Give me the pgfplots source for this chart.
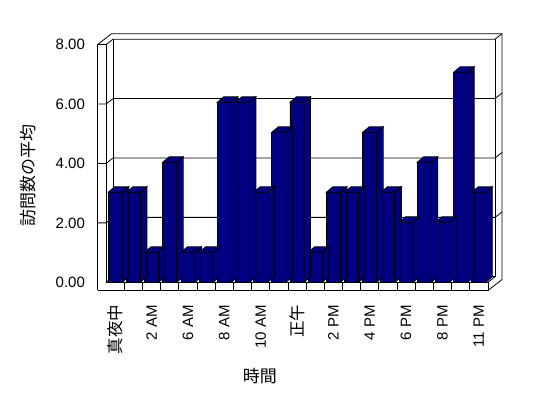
\documentclass[border=0pt]{standalone}
\usepackage{fontspec}
\setmainfont{Liberation Sans}
\newfontfamily\cjk{Noto Sans CJK JP}
\usepackage{pgfplots}
\usepackage{pgfplotstable}
\pgfplotsset{compat=1.18}
\definecolor{barnavy}{RGB}{0,0,128}

\pgfplotstableread{
x v
1 3
2 3
3 1
4 4
5 1
6 1
7 6
8 6
9 3
10 5
11 6
12 1
13 3
14 3
15 5
16 3
17 2
18 4
19 2
20 7
21 3
}\visits

\pgfdeclareplotmark{barfaces}{%
  \pgfmathsetlengthmacro\hh{\barh*30pt}%
  \pgfpathmoveto{\pgfqpoint{-7pt}{0pt}}%
  \pgfpathlineto{\pgfqpoint{7pt}{0pt}}%
  \pgfpathlineto{\pgfqpoint{13.5pt}{5.5pt}}%
  \pgfpathlineto{\pgfqpoint{-0.5pt}{5.5pt}}%
  \pgfpathclose
  \pgfusepathqfillstroke
  \pgfpathmoveto{\pgfqpoint{7pt}{0pt}}%
  \pgfpathlineto{\pgfqpoint{13.5pt}{5.5pt}}%
  \pgfpathlineto{\pgfpoint{13.5pt}{5.5pt-\hh}}%
  \pgfpathlineto{\pgfpoint{7pt}{-\hh}}%
  \pgfpathclose
  \pgfusepathqfillstroke
}

\begin{document}
\begin{tikzpicture}
\useasboundingbox (0,0) rectangle (548pt,398pt);
\begin{scope}[yshift=398pt,x=1pt,y=-1pt,line width=0.8pt]
 \draw (97.5,290.5)--(97.5,44.7)--(106,44.7)--(106,282.3)--(488,282.3);
 \draw (97.5,290.5)--(488,290.5)--(488,282.3);
 \draw (97.5,44.7)--(111.5,33.7)--(502,33.7)--(502,279.5)--(488,290.5);
 \draw (106,44.7)--(113,39.2)--(495,39.2)--(502,33.7);
 \draw (113,39.2)--(113,276.8)--(495,276.8)--(495,39.2);
 \draw (488,282.3)--(495,276.8);
 \draw (106,282.3)--(113,276.8);
 \foreach \v in {2,4,6} {
   \draw (113,{276.8-29.7*\v})--(495,{276.8-29.7*\v})--(502,{271.3-29.7*\v});
   \draw (97.5,{282.3-29.7*\v})--(106,{282.3-29.7*\v})--(113,{276.8-29.7*\v});
 }
 \foreach \k in {1,...,20} \draw ({106.1+18.18*\k},282.3)--({106.1+18.18*\k},290.5);
\end{scope}
\begin{axis}[
  at={(106.1pt,115.7pt)}, anchor=south west,
  x=18.18pt, y=30pt,
  xmin=0.5, xmax=21.5, ymin=0, ymax=8,
  clip=false,
  axis line style={draw=none},
  tick style={draw=none},
  major tick length=0pt,
  xtick={1,3,...,21},
  xticklabels={{\cjk\fontsize{16.5}{18}\selectfont 真夜中},2 AM,6 AM,8 AM,10 AM,{\cjk\fontsize{16.5}{18}\selectfont 正午},2 PM,4 PM,6 PM,8 PM,11 PM},
  ytick={0,1.98,3.96,5.94,7.92},
  yticklabels={0.00,2.00,4.00,6.00,8.00},
  tick label style={font=\fontsize{15}{18}\selectfont},
  xticklabel style={yshift=-22.5pt, rotate=90, anchor=east, inner sep=0pt},
  yticklabel style={anchor=east, inner sep=0pt, xshift=-21pt},
  xlabel={\cjk\fontsize{17}{20}\selectfont 時間},
  ylabel={\cjk\fontsize{17}{20}\selectfont 訪問数の平均},
  every axis x label/.style={at={(rel axis cs:0.403,-0.390)}, anchor=center, font=\cjk\fontsize{17}{20}\selectfont},
  every axis y label/.style={at={(rel axis cs:-0.2046,0.447)}, rotate=90, anchor=center, font=\cjk\fontsize{17}{20}\selectfont},
]
\addplot[only marks, mark=barfaces, mark options={fill=barnavy,draw=black,line width=0.8pt},
  visualization depends on={\thisrow{v} \as \barh}] table[x=x,y=v]{\visits};
\addplot[ybar, bar width=14pt, fill=barnavy, draw=black, line width=0.8pt] table[x=x,y=v]{\visits};
\end{axis}
\end{tikzpicture}
\end{document}
